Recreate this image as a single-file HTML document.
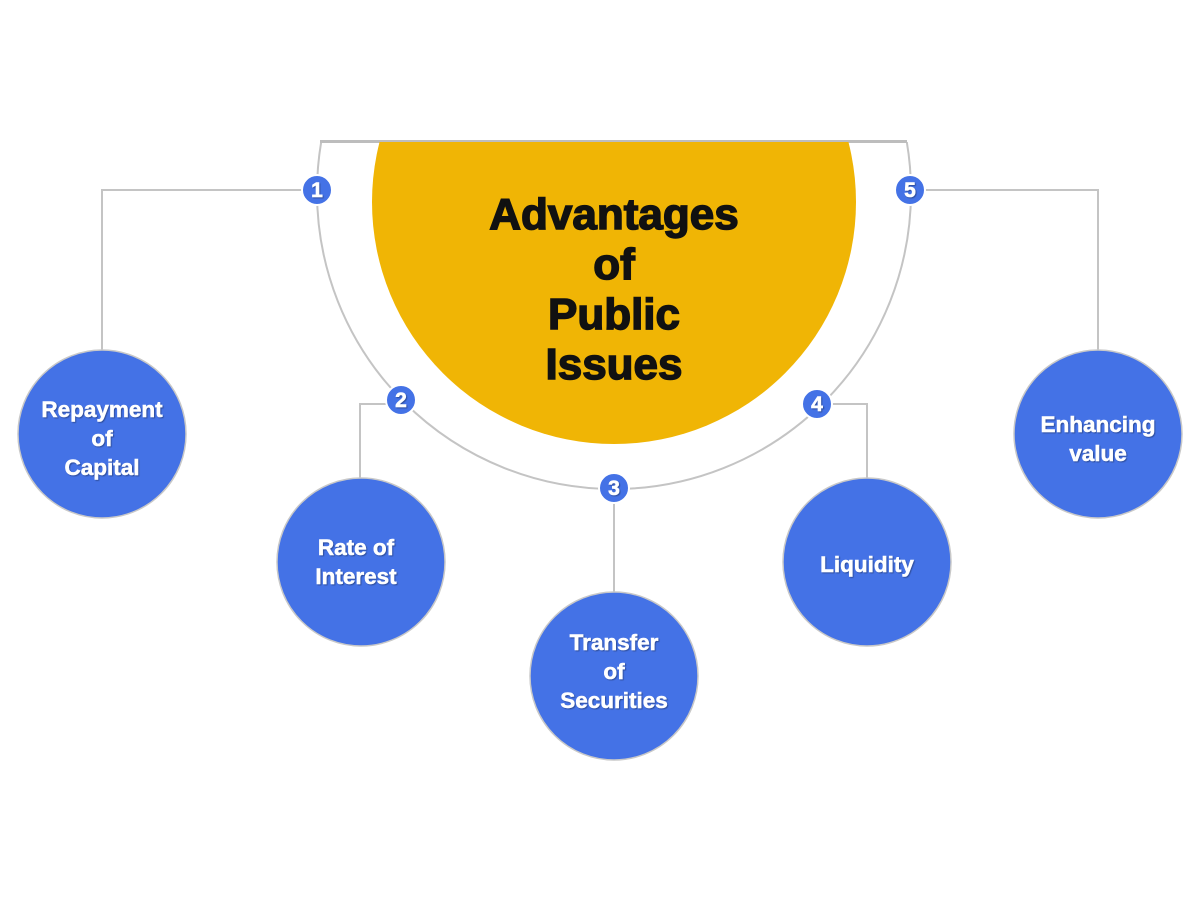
<!DOCTYPE html>
<html><head><meta charset="utf-8"><style>
html,body{margin:0;padding:0;background:#fff;}
</style></head><body>
<svg width="1200" height="900" viewBox="0 0 1200 900" xmlns="http://www.w3.org/2000/svg" font-family="Liberation Sans, sans-serif" font-weight="bold">
<defs>
<clipPath id="c"><rect x="0" y="142" width="1200" height="800"/></clipPath>
<filter id="s" x="-20%" y="-20%" width="140%" height="140%"><feDropShadow dx="1" dy="1" stdDeviation="0.5" flood-color="#000" flood-opacity="0.35"/></filter>
</defs>
<g fill="none" stroke="#c4c4c4" stroke-width="2">
<circle cx="614" cy="192" r="297" clip-path="url(#c)"/>
<polyline points="303,190 102,190 102,350"/>
<polyline points="388,404 360,404 360,478"/>
<line x1="614" y1="502" x2="614" y2="592"/>
<polyline points="831,404 867,404 867,478"/>
<polyline points="924,190 1098,190 1098,350"/>
</g>
<line x1="320" y1="141.5" x2="907" y2="141.5" stroke="#bdbdbd" stroke-width="3"/>
<circle cx="614" cy="202" r="242" fill="#f0b505" clip-path="url(#c)"/>
<g font-size="44" text-anchor="middle" fill="#111" stroke="#111" stroke-width="1.5">
<text x="614" y="229">Advantages</text>
<text x="614" y="279">of</text>
<text x="614" y="329">Public</text>
<text x="614" y="379">Issues</text>
</g>
<g fill="#4472e6" stroke="#c8c8c8" stroke-width="1.5">
<circle cx="102" cy="434" r="84"/>
<circle cx="361" cy="562" r="84"/>
<circle cx="614" cy="676" r="84"/>
<circle cx="867" cy="562" r="84"/>
<circle cx="1098" cy="434" r="84"/>
</g>
<g fill="#4472e6" stroke="#fff" stroke-width="2">
<circle cx="317" cy="190" r="15"/>
<circle cx="401" cy="400" r="15"/>
<circle cx="614" cy="488" r="15"/>
<circle cx="817" cy="404" r="15"/>
<circle cx="910" cy="190" r="15"/>
</g>
<g fill="#fff" font-size="21" text-anchor="middle" filter="url(#s)" stroke="#fff" stroke-width="0.6">
<text x="317" y="197">1</text>
<text x="401" y="407">2</text>
<text x="614" y="495">3</text>
<text x="817" y="411">4</text>
<text x="910" y="197">5</text>
</g>
<g fill="#fff" font-size="22.5" text-anchor="middle" filter="url(#s)" stroke="#fff" stroke-width="0.5">
<text x="102" y="417">Repayment</text>
<text x="102" y="446">of</text>
<text x="102" y="475">Capital</text>
<text x="356" y="555">Rate of</text>
<text x="356" y="584">Interest</text>
<text x="614" y="650">Transfer</text>
<text x="614" y="679">of</text>
<text x="614" y="708">Securities</text>
<text x="867" y="572">Liquidity</text>
<text x="1098" y="432">Enhancing</text>
<text x="1098" y="461">value</text>
</g>
</svg>
</body></html>
